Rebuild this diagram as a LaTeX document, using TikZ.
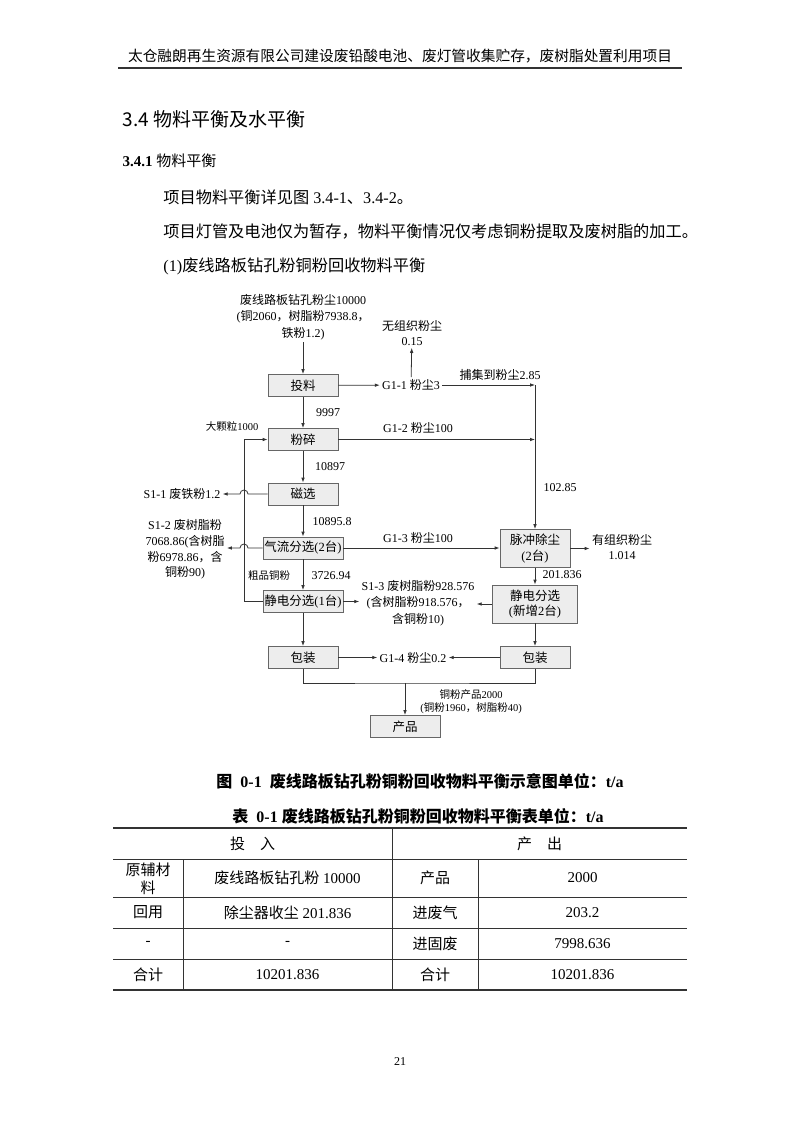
\documentclass[tikz,border=0pt]{standalone}
\usepackage{fontspec}
\setmainfont{Liberation Serif}
\newfontfamily\cjk{Noto Sans CJK SC}
\newcommand\zh[1]{{\cjk #1}}
\usetikzlibrary{arrows.meta,positioning,calc}

\begin{document}
\begin{tikzpicture}[x=1pt,y=-1pt,>={Latex[length=5pt,width=3.6pt]},
  box node/.style={draw=black!60,fill=black!7,line width=0.7pt,minimum width=70pt,minimum height=22pt,inner sep=1pt,align=center,font=\fontsize{12.5}{15.5}\selectfont},
  txt node/.style={inner sep=2pt,align=center,font=\fontsize{12}{16.5}\selectfont},
  small node/.style={inner sep=1pt,align=center,font=\fontsize{10.5}{13.5}\selectfont},
  body node/.style={anchor=west,inner sep=0pt,font=\fontsize{16.2}{20}\selectfont},
  cell/.style={align=center,font=\fontsize{15}{18}\selectfont},
  every path/.style={draw=black!80,line width=0.8pt}]
  \useasboundingbox[fill=white,draw=none] (0,0) rectangle (800,1131);

  % page head
  \node (hdr) at (400,56) {\fontsize{14.7}{16}\selectfont\zh{太仓融朗再生资源有限公司建设废铅酸电池、废灯管收集贮存，废树脂处置利用项目}};
  \draw[line width=1.3pt] (118,68) -- (682,68);
  \node[anchor=west] (sec) at (119,119) {\fontsize{19}{22}\selectfont\zh{3.4 物料平衡及水平衡}};
  \node[anchor=west] (subsec) at (119,161) {\fontsize{15}{18}\selectfont\bfseries 3.4.1 \zh{\mdseries 物料平衡}};
  \node[body node] (p1) at (163,197) {\zh{项目物料平衡详见图} 3.4-1\zh{、}3.4-2\zh{。}};
  \node[body node] (p2) at (163,232) {\zh{项目灯管及电池仅为暂存，物料平衡情况仅考虑铜粉提取及废树脂的加工。}};
  \node[body node] (p3) at (163,266) {(1)\zh{废线路板钻孔粉铜粉回收物料平衡}};

  % flow chart
  \node[txt node] (feed) at (303,317) {\zh{废线路板钻孔粉尘}10000\\(\zh{铜}2060\zh{，树脂粉}7938.8\zh{，}\\\zh{铁粉}1.2)};
  \node[box node] (tl) at (303,385.5) {\zh{投料}};
  \node[box node] (fs) at (303,439.5) {\zh{粉碎}};
  \node[box node] (cx) at (303,494) {\zh{磁选}};
  \node[box node,minimum width=80pt] (qf) at (303,548) {\zh{气流分选}(2\zh{台})};
  \node[box node,minimum width=80pt] (jd1) at (303,601.5) {\zh{静电分选}(1\zh{台})};
  \node[box node] (bz1) at (303,657.5) {\zh{包装}};
  \node[box node,minimum height=38pt] (mc) at (535,548.5) {\zh{脉冲除尘}\\(2\zh{台})};
  \node[box node,minimum width=85pt,minimum height=38pt] (jd2) at (535,604) {\zh{静电分选}\\(\zh{新增}2\zh{台})};
  \node[box node] (bz2) at (535,657.5) {\zh{包装}};
  \node[box node] (cp) at (405,726.5) {\zh{产品}};

  \node[txt node] (g11) at (411,385) {G1-1 \zh{粉尘}3};
  \node[txt node,font=\fontsize{12}{14.5}\selectfont] (wz) at (412,333) {\zh{无组织粉尘}\\0.15};
  \node[txt node] (bj) at (500,375) {\zh{捕集到粉尘}2.85};
  \node[txt node] (g12) at (418,428) {G1-2 \zh{粉尘}100};
  \node[txt node] (n9997) at (328,413) {9997};
  \node[small node] (dkl) at (232,427) {\zh{大颗粒}1000};
  \node[txt node] (n10897) at (330,467) {10897};
  \node[txt node] (s11) at (182,494) {S1-1 \zh{废铁粉}1.2};
  \node[txt node] (n108958) at (332,522) {10895.8};
  \node[txt node,font=\fontsize{12}{15.8}\selectfont] (s12) at (185,549.5) {S1-2 \zh{废树脂粉}\\7068.86(\zh{含树脂}\\\zh{粉}6978.86\zh{，含}\\\zh{铜粉}90)};
  \node[txt node] (g13) at (418,538) {G1-3 \zh{粉尘}100};
  \node[txt node] (n10285) at (560,488) {102.85};
  \node[txt node,font=\fontsize{12}{15}\selectfont] (yz) at (622,547) {\zh{有组织粉尘}\\1.014};
  \node[txt node] (n201836) at (562,575) {201.836};
  \node[small node] (cpt) at (269,576) {\zh{粗品铜粉}};
  \node[txt node] (n372694) at (331,576) {3726.94};
  \node[txt node] (s13) at (418,603) {S1-3 \zh{废树脂粉}928.576\\(\zh{含树脂粉}918.576\zh{，}\\\zh{含铜粉}10)};
  \node[txt node] (g14) at (413,657.5) {G1-4 \zh{粉尘}0.2};
  \node[small node] (tp) at (471,701.5) {\zh{铜粉产品}2000\\(\zh{铜粉}1960\zh{，树脂粉}40)};

  \coordinate (c1) at (535,385);
  \coordinate (lp) at (244,439.5);
  \coordinate (jn) at (405,683);

  \draw[->] (feed) -- (tl);
  \draw[->] (tl) -- (g11);
  \draw[->] (g11) -- (wz);
  \draw[->] (g11) -- (c1);
  \draw[->] (c1) -- (mc);
  \draw[->] (tl) -- (fs);
  \draw[->] (fs) -- (fs -| c1);
  \draw[->] (fs) -- (cx);
  \draw[->] (cx) -- (qf);
  \draw[->] (qf) -- (jd1);
  \draw[->] (jd1) -- (bz1);
  \draw[->] (cx.west) -- ([xshift=4pt]cx.west -| lp) arc[start angle=0,end angle=180,radius=4pt] -- (cx.west -| s11.east);
  \draw[->] (qf.west) -- ([xshift=4pt]qf.west -| lp) arc[start angle=0,end angle=180,radius=4pt] -- (qf.west -| s12.east);
  \draw[->] (jd1.west) -| (lp) -- (fs.west);
  \draw[->] (qf.east) -- (qf.east -| mc.west);
  \draw[->] (mc.east) -- (mc.east -| yz.west);
  \draw[->] (mc) -- (jd2);
  \draw[->] (jd1.east) -- (jd1.east -| s13.west);
  \draw[->] (jd2.west) -- (jd2.west -| s13.east);
  \draw[->] (jd2) -- (bz2);
  \draw[->] (bz1) -- (g14);
  \draw[->] (bz2) -- (g14);
  \draw (bz1) |- (jn) -| (bz2);
  \draw[->] (jn) -- (cp);

  % captions
  \node (fcap) at (420,781) {\fontsize{16}{18}\selectfont\bfseries\zh{图}\ \ 0-1\ \ \zh{废线路板钻孔粉铜粉回收物料平衡示意图单位：}t/a};
  \node (tcap) at (418,816) {\fontsize{16}{18}\selectfont\bfseries\zh{表}\ \ 0-1\ \zh{废线路板钻孔粉铜粉回收物料平衡表单位：}t/a};

  % table
  \draw[line width=1.4pt] (113,828) -- (687,828);
  \draw[line width=1.4pt] (113,990) -- (687,990);
  \foreach \y in {859,897,928,959}
    \draw[line width=0.6pt] (113,\y) -- (687,\y);
  \draw[line width=0.6pt] (392,828) -- (392,990);
  \foreach \x in {183,478}
    \draw[line width=0.6pt] (\x,859) -- (\x,990);

  \node[cell] (hin) at (252.5,843.5) {\zh{投\quad 入}};
  \node[cell] (hout) at (539.5,843.5) {\zh{产\quad 出}};
  \node[cell] (a1) at (148,879) {\zh{原辅材}\\\zh{料}};
  \node[cell] (b1) at (287.5,878) {\zh{废线路板钻孔粉} 10000};
  \node[cell] (c1t) at (435,878) {\zh{产品}};
  \node[cell] (d1) at (582.5,878) {2000};
  \node[cell] (a2) at (148,912.5) {\zh{回用}};
  \node[cell] (b2) at (287.5,912.5) {\zh{除尘器收尘} 201.836};
  \node[cell] (c2) at (435,912.5) {\zh{进废气}};
  \node[cell] (d2) at (582.5,912.5) {203.2};
  \node[cell] (a3) at (148,943.5) {-};
  \node[cell] (b3) at (287.5,943.5) {-};
  \node[cell] (c3) at (435,943.5) {\zh{进固废}};
  \node[cell] (d3) at (582.5,943.5) {7998.636};
  \node[cell] (a4) at (148,974.5) {\zh{合计}};
  \node[cell] (b4) at (287.5,974.5) {10201.836};
  \node[cell] (c4) at (435,974.5) {\zh{合计}};
  \node[cell] (d4) at (582.5,974.5) {10201.836};

  \node (pg) at (400,1062) {\fontsize{12}{14}\selectfont 21};
\end{tikzpicture}
\end{document}
